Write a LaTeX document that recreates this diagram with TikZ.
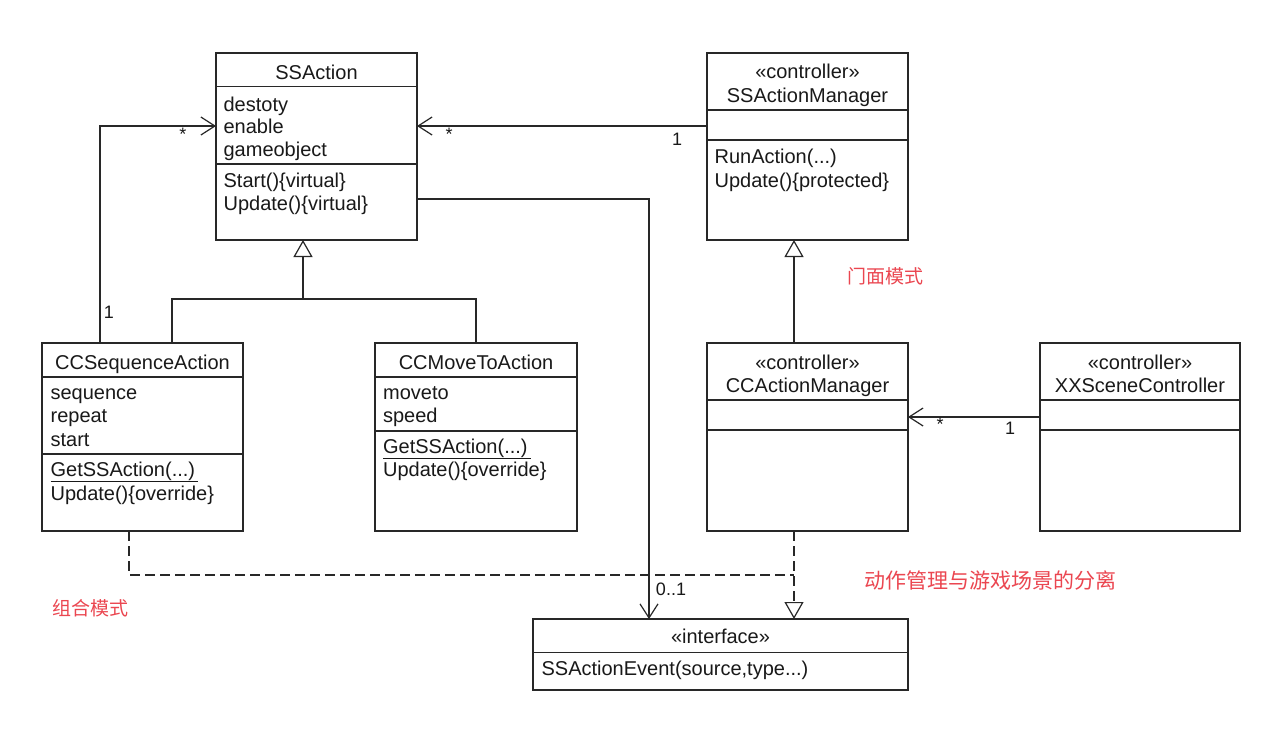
\documentclass[tikz,border=0pt]{standalone}
\usepackage{fontspec}
\setmainfont{Liberation Sans}
\newfontfamily\cjk{Noto Sans CJK SC}
\usetikzlibrary{arrows.meta,calc}
\definecolor{linec}{RGB}{40,40,40}
\definecolor{textc}{RGB}{25,25,25}
\definecolor{notec}{RGB}{235,70,80}
\begin{document}
\begin{tikzpicture}[x=1pt,y=-1pt, line width=1.2pt, draw=linec,
  box/.style={draw=linec, line width=1.2pt, anchor=north west, inner sep=0pt, outer sep=0pt},
  txt/.style={anchor=base west, inner sep=0pt, font=\fontsize{20}{23}\selectfont, text=textc},
  ctxt/.style={anchor=base, inner sep=0pt, font=\fontsize{20}{23}\selectfont, text=textc},
  mult/.style={anchor=center, inner sep=0pt, font=\fontsize{18}{20}\selectfont, text=textc},
  barb/.style={-{Straight Barb[length=14pt,width=18pt,line width=1.2pt]}},
  gen/.style={-{Triangle[open,length=17pt,width=19pt,line width=1.2pt]}},
  dsh/.style={dash pattern=on 10pt off 5pt},
  note/.style={anchor=center, inner sep=0pt, text=notec, font=\cjk\fontsize{19}{20}\selectfont}]
\useasboundingbox[fill=white] (0,0) rectangle (1288,737);

% ---------- SSAction ----------
\node[box, minimum width=201pt, minimum height=187pt] (sa) at (216,53) {};
\draw (216,86.7) -- (417,86.7);
\draw (216,164) -- (417,164);
\node[ctxt] (saT) at (316.5,79) {SSAction};
\node[txt] (sa1) at (223,111) {destoty};
\node[txt] (sa2) at (223,133.5) {enable};
\node[txt] (sa3) at (223,156) {gameobject};
\node[txt] (sa4) at (223,187) {Start()\{virtual\}};
\node[txt] (sa5) at (223,210) {Update()\{virtual\}};

% ---------- SSActionManager ----------
\node[box, minimum width=201pt, minimum height=187pt] (sam) at (707,53) {};
\draw (707,110) -- (908,110);
\draw (707,140) -- (908,140);
\node[ctxt] (samS) at (807.5,78) {«controller»};
\node[ctxt] (samT) at (807.5,102) {SSActionManager};
\node[txt] (sam1) at (714,163) {RunAction(...)};
\node[txt] (sam2) at (714,187) {Update()\{protected\}};

% ---------- CCSequenceAction ----------
\node[box, minimum width=201pt, minimum height=188pt] (csa) at (42,343) {};
\draw (42,377) -- (243,377);
\draw (42,454) -- (243,454);
\node[ctxt] (csaT) at (142.5,369) {CCSequenceAction};
\node[txt] (csa1) at (50,399) {sequence};
\node[txt] (csa2) at (50,422.5) {repeat};
\node[txt] (csa3) at (50,446) {start};
\node[txt] (csa4) at (50,476) {\underline{GetSSAction(...)\,}};
\node[txt] (csa5) at (50,500) {Update()\{override\}};

% ---------- CCMoveToAction ----------
\node[box, minimum width=202pt, minimum height=188pt] (cmt) at (375,343) {};
\draw (375,377) -- (577,377);
\draw (375,431) -- (577,431);
\node[ctxt] (cmtT) at (476,369) {CCMoveToAction};
\node[txt] (cmt1) at (382.5,399) {moveto};
\node[txt] (cmt2) at (382.5,422.5) {speed};
\node[txt] (cmt3) at (382.5,453) {\underline{GetSSAction(...)\,}};
\node[txt] (cmt4) at (382.5,476) {Update()\{override\}};

% ---------- CCActionManager ----------
\node[box, minimum width=201pt, minimum height=188pt] (cam) at (707,343) {};
\draw (707,400) -- (908,400);
\draw (707,430) -- (908,430);
\node[ctxt] (camS) at (807.5,369) {«controller»};
\node[ctxt] (camT) at (807.5,392) {CCActionManager};

% ---------- XXSceneController ----------
\node[box, minimum width=200pt, minimum height=188pt] (xx) at (1040,343) {};
\draw (1040,400) -- (1240,400);
\draw (1040,430) -- (1240,430);
\node[ctxt] (xxS) at (1140,369) {«controller»};
\node[ctxt] (xxT) at (1140,392) {XXSceneController};

% ---------- interface ----------
\node[box, minimum width=375pt, minimum height=71pt] (ie) at (533,619) {};
\draw (533,652.5) -- (908,652.5);
\node[ctxt] (ieS) at (720.5,643) {«interface»};
\node[txt] (ie1) at (541,675) {SSActionEvent(source,type...)};

% ---------- connectors ----------
\coordinate (p1) at (100,126);
\draw[barb] (csa.north -| p1) -- (p1) -- (sa.west |- p1);
\draw[barb] (sam.west |- p1) -- (sa.east |- p1);

\coordinate (p2) at (649,199);
\draw[barb] (sa.east |- p2) -- (p2) -- (ie.north -| p2);

\coordinate (g1) at (303,299);
\coordinate (ga) at (172,299);
\coordinate (gb) at (476,299);
\draw (csa.north -| ga) -- (ga) -- (gb) -- (cmt.north -| gb);
\draw[gen] (g1) -- (sa.south -| g1);

\coordinate (g2) at (794,0);
\draw[gen] (cam.north -| g2) -- (sam.south -| g2);
\draw[dsh, gen] (cam.south -| g2) -- (ie.north -| g2);

\coordinate (d1) at (129,575);
\draw[dsh] (csa.south -| d1) -- (d1) -- (d1 -| g2);

\coordinate (p3) at (0,417);
\draw[barb] (xx.west |- p3) -- (cam.east |- p3);

% ---------- multiplicities ----------
\node[mult] (m1) at (183,134) {*};
\node[mult] (m2) at (449,134) {*};
\node[mult] (m3) at (677,139) {1};
\node[mult] (m4) at (109,312) {1};
\node[mult] (m5) at (940,424) {*};
\node[mult] (m6) at (1010,428) {1};
\node[mult] (m7) at (671,589) {0..1};

% ---------- notes ----------
\node[note] (n1) at (885,276) {门面模式};
\node[note] (n2) at (90,608) {组合模式};
\node[note, font=\cjk\fontsize{21}{22}\selectfont] (n3) at (990,580) {动作管理与游戏场景的分离};
\end{tikzpicture}
\end{document}
